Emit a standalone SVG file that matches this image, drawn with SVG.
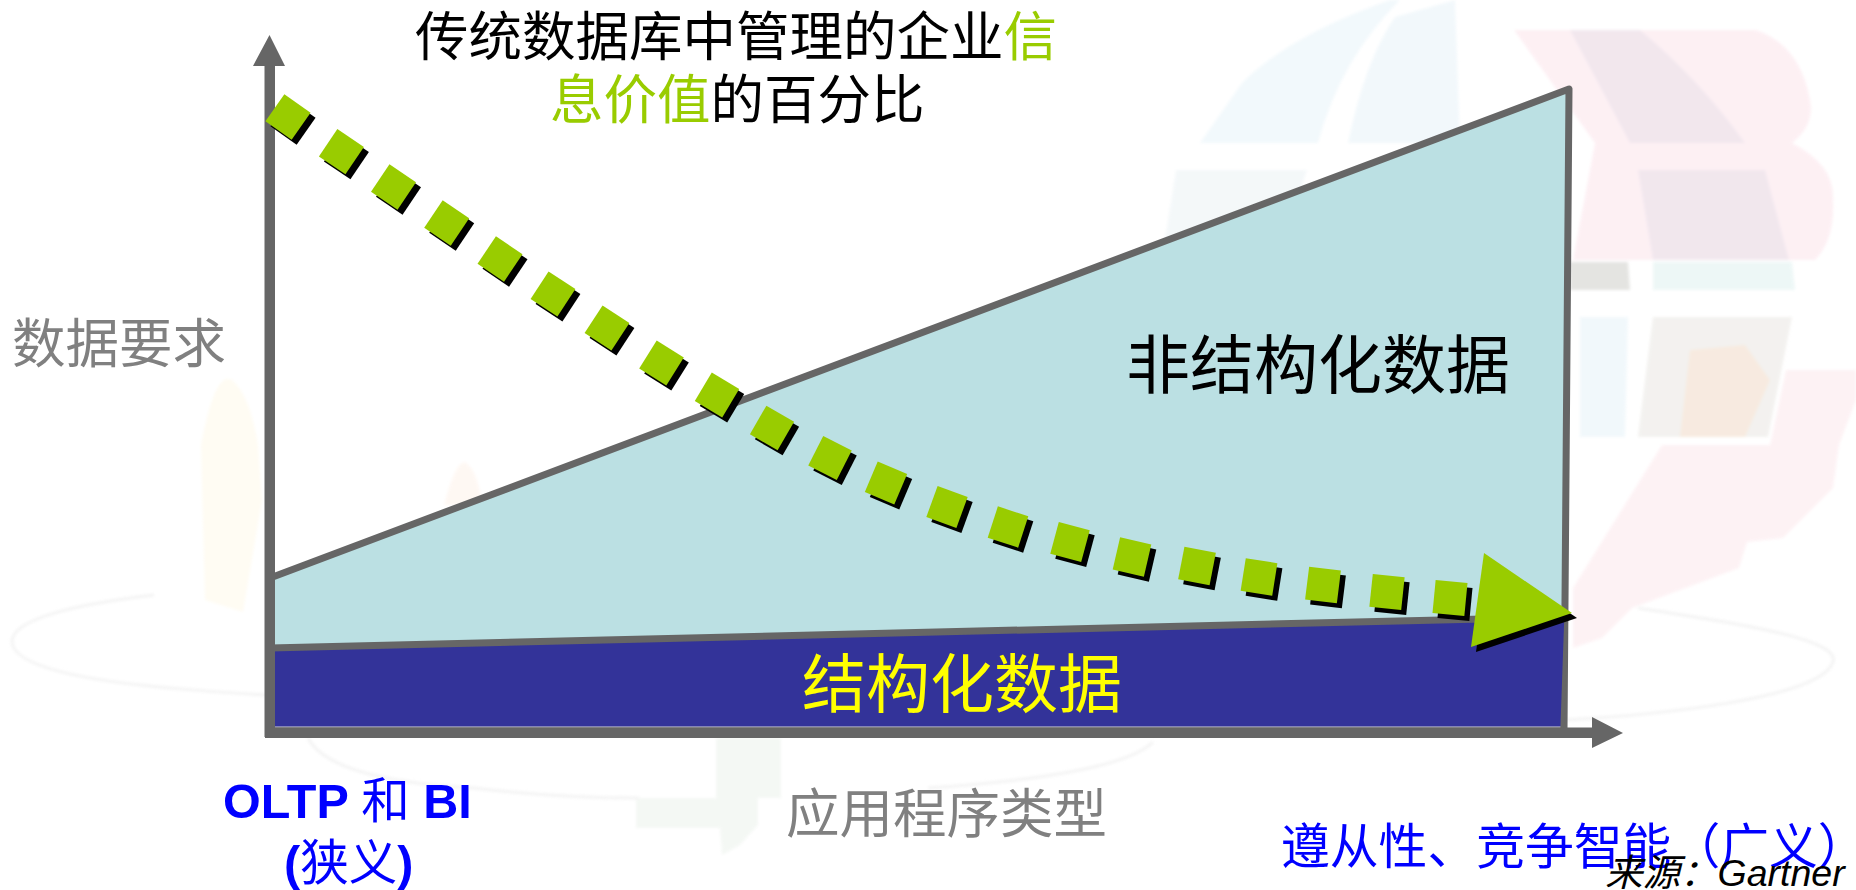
<svg xmlns="http://www.w3.org/2000/svg" xmlns:xlink="http://www.w3.org/1999/xlink" width="1856" height="890" viewBox="0 0 1856 890">
<style>
text{font-family:"Noto Sans CJK SC","Liberation Sans",sans-serif}
.t{font-size:53.5px}
.big{font-size:64px}
.gray{fill:#808080}
.blk{fill:#000}
.grn{fill:#99CC00}
.blu{fill:#0000FF}
.lat{font-family:"Liberation Sans",sans-serif;font-weight:700}
.ring{fill:none;stroke:#F0F0F0;stroke-width:3}
</style>
<defs>
<rect id="d" x="-16" y="-16.5" width="32" height="33"/>
<filter id="soft" x="-5%" y="-5%" width="110%" height="110%"><feGaussianBlur stdDeviation="1.5"/></filter>
</defs>
<rect width="1856" height="890" fill="#fff"/>
<g id="watermark" filter="url(#soft)" opacity="0.75">
<path d="M1200 143L1242 83Q1290 35 1390 0L1400 0Q1340 60 1318 143Z" fill="#EEF7FB"/>
<path d="M1348 143Q1365 60 1395 17L1455 0L1460 143Z" fill="#EEF6FA"/>
<path d="M1176 170H1307L1270 280L1160 270Z" fill="#F1F6F8"/>
<path d="M1514 30H1756Q1800 45 1810 100Q1815 125 1792 143Q1835 165 1833 200Q1835 240 1815 260H1573L1595 143Z" fill="#FDEBF0"/>
<path d="M1570 30H1640Q1700 80 1745 143H1630Z" fill="#EEE0E8"/>
<path d="M1638 170H1765L1789 260H1653Z" fill="#EDE0E8"/>
<path d="M1653 262H1792L1795 290H1653Z" fill="#E8F5F4"/>
<path d="M1570 262H1628L1630 290H1570Z" fill="#DCDCD8"/>
<path d="M1580 317H1628L1625 437H1580Z" fill="#EDF6FA"/>
<path d="M1653 317H1792L1768 437H1638Z" fill="#EFEDEA"/>
<path d="M1690 350L1745 345L1770 380L1745 437H1680Z" fill="#F5E4D6"/>
<path d="M1786 370H1856V400L1839 445L1833 488L1783 538L1747 542L1739 568L1632 608L1602 638L1573 648V588L1662 445H1770Z" fill="#FDEEF1"/>
<path d="M201 445Q215 370 232 380Q250 395 258 445L262 500L243 612L205 600Z" fill="#FFFBEF"/>
<path d="M444 505Q455 462 465 462Q478 470 482 505Z" fill="#FEF6F0"/>
<path d="M716 738H781V798H758V825L740 845L722 855L720 828H636V798H716Z" fill="#F1F6F1"/>
<path class="ring" d="M1638 608C1750 625 1840 640 1833 662C1820 700 1650 715 1567 720"/>
<path class="ring" d="M154 595C70 605 12 620 12 642C15 680 180 690 266 695"/>
<path class="ring" d="M308 738Q330 780 473 788Q560 798 639 798"/>
<path class="ring" d="M928 788Q1120 775 1153 742"/>
</g>
<g id="unstructured-area">
<path d="M270 578L1569 89L1564 730H270Z" fill="#BBE0E3" stroke="#666" stroke-width="7" stroke-linejoin="round"/>
</g>
<g id="structured-area">
<path d="M270 648L1566 617L1562 727H270Z" fill="#333399"/>
<path d="M270 648L1566 617" fill="none" stroke="#666" stroke-width="7"/>
<path d="M275 727H1562" stroke="#D8D8D8" stroke-width="1" fill="none"/>
<path d="M1566 618L1562 732" stroke="#666" stroke-width="3.5" fill="none"/>
</g>
<g id="connectors">
<path id="y-axis" d="M264.5 737V66H253L269.5 35L285 66H275V737Z" fill="#666"/>
<path id="x-axis" d="M265 727.5H1592V717L1623 733L1592 748V738H265Z" fill="#666"/>
<g id="value-trend">
<g id="value-shadow" transform="translate(5 5)" fill="#000">
<use xlink:href="#d" href="#d" transform="translate(288 117) rotate(35)"/>
<use xlink:href="#d" href="#d" transform="translate(341.4 151.7) rotate(34)"/>
<use xlink:href="#d" href="#d" transform="translate(393.5 187) rotate(34)"/>
<use xlink:href="#d" href="#d" transform="translate(446.7 223) rotate(34)"/>
<use xlink:href="#d" href="#d" transform="translate(500 259) rotate(34)"/>
<use xlink:href="#d" href="#d" transform="translate(553 294) rotate(33)"/>
<use xlink:href="#d" href="#d" transform="translate(607 328) rotate(33)"/>
<use xlink:href="#d" href="#d" transform="translate(661.5 363) rotate(32)"/>
<use xlink:href="#d" href="#d" transform="translate(717 395) rotate(31)"/>
<use xlink:href="#d" href="#d" transform="translate(772 428) rotate(30)"/>
<use xlink:href="#d" href="#d" transform="translate(830 458) rotate(27)"/>
<use xlink:href="#d" href="#d" transform="translate(886 483) rotate(23)"/>
<use xlink:href="#d" href="#d" transform="translate(947 507) rotate(20)"/>
<use xlink:href="#d" href="#d" transform="translate(1008 527) rotate(18)"/>
<use xlink:href="#d" href="#d" transform="translate(1070 542) rotate(15)"/>
<use xlink:href="#d" href="#d" transform="translate(1132 557) rotate(13)"/>
<use xlink:href="#d" href="#d" transform="translate(1197 566) rotate(11)"/>
<use xlink:href="#d" href="#d" transform="translate(1259 577) rotate(9)"/>
<use xlink:href="#d" href="#d" transform="translate(1323 585) rotate(7)"/>
<use xlink:href="#d" href="#d" transform="translate(1387 592) rotate(6)"/>
<use xlink:href="#d" href="#d" transform="translate(1450 598) rotate(5.5)"/>
<path d="M1484 553L1572 613L1471 647Z"/>
</g>
<g id="value-dashes" fill="#99CC00">
<use xlink:href="#d" href="#d" transform="translate(288 117) rotate(35)"/>
<use xlink:href="#d" href="#d" transform="translate(341.4 151.7) rotate(34)"/>
<use xlink:href="#d" href="#d" transform="translate(393.5 187) rotate(34)"/>
<use xlink:href="#d" href="#d" transform="translate(446.7 223) rotate(34)"/>
<use xlink:href="#d" href="#d" transform="translate(500 259) rotate(34)"/>
<use xlink:href="#d" href="#d" transform="translate(553 294) rotate(33)"/>
<use xlink:href="#d" href="#d" transform="translate(607 328) rotate(33)"/>
<use xlink:href="#d" href="#d" transform="translate(661.5 363) rotate(32)"/>
<use xlink:href="#d" href="#d" transform="translate(717 395) rotate(31)"/>
<use xlink:href="#d" href="#d" transform="translate(772 428) rotate(30)"/>
<use xlink:href="#d" href="#d" transform="translate(830 458) rotate(27)"/>
<use xlink:href="#d" href="#d" transform="translate(886 483) rotate(23)"/>
<use xlink:href="#d" href="#d" transform="translate(947 507) rotate(20)"/>
<use xlink:href="#d" href="#d" transform="translate(1008 527) rotate(18)"/>
<use xlink:href="#d" href="#d" transform="translate(1070 542) rotate(15)"/>
<use xlink:href="#d" href="#d" transform="translate(1132 557) rotate(13)"/>
<use xlink:href="#d" href="#d" transform="translate(1197 566) rotate(11)"/>
<use xlink:href="#d" href="#d" transform="translate(1259 577) rotate(9)"/>
<use xlink:href="#d" href="#d" transform="translate(1323 585) rotate(7)"/>
<use xlink:href="#d" href="#d" transform="translate(1387 592) rotate(6)"/>
<use xlink:href="#d" href="#d" transform="translate(1450 598) rotate(5.5)"/>
<path d="M1484 553L1572 613L1471 647Z"/>
</g>
</g>
</g>
<g id="label-title">
<text class="t blk" x="415" y="56">传统数据库中管理的企业<tspan class="grn">信</tspan></text>
<text class="t grn" x="550" y="119">息价值<tspan class="blk">的百分比</tspan></text>
</g>
<g id="label-y"><text class="t gray" x="12" y="363">数据要求</text></g>
<g id="label-unstructured"><text class="big blk" x="1126" y="388">非结构化数据</text></g>
<g id="label-structured"><text class="big" fill="#FFFF00" x="802" y="707">结构化数据</text></g>
<g id="label-x"><text class="t gray" x="786" y="833">应用程序类型</text></g>
<g id="label-oltp" font-size="48.5" fill="#0000FF">
<text x="223" y="818"><tspan class="lat">OLTP </tspan><tspan>和</tspan><tspan class="lat"> BI</tspan></text>
<text x="284" y="880"><tspan class="lat">(</tspan><tspan>狭义</tspan><tspan class="lat">)</tspan></text>
</g>
<g id="label-compliance"><text class="blu" font-size="48.8" x="1281" y="864">遵从性、竞争智能（广义）</text></g>
<g id="label-source"><text font-size="37.5" font-style="italic" fill="#000" x="1605" y="886">来源：<tspan font-family="Liberation Sans">Gartner</tspan></text></g>
</svg>
